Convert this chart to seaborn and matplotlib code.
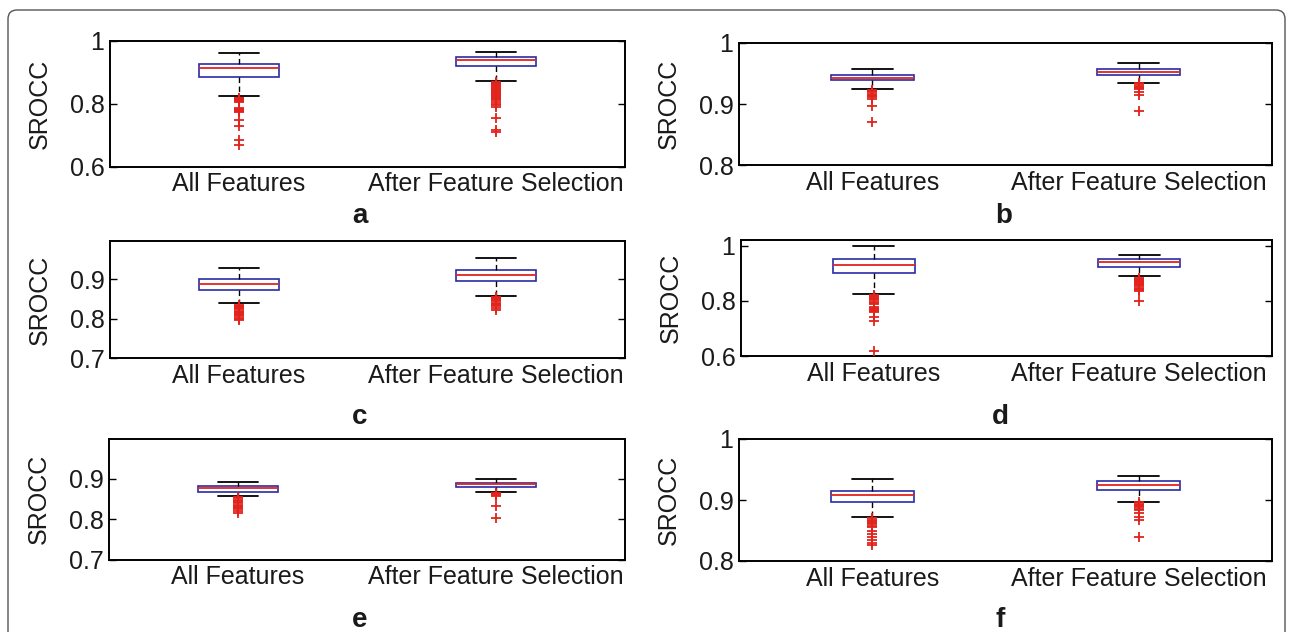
import numpy as np
import pandas as pd
import matplotlib
matplotlib.use("Agg")
import matplotlib.pyplot as plt
from matplotlib.patches import FancyBboxPatch
from matplotlib.transforms import IdentityTransform
import seaborn as sns

# ---------------- data ----------------
categories = ["All Features", "After Feature Selection"]
panel_letters = ["a", "b", "c", "d", "e", "f"]

# five-number summaries: [lower whisker, Q1, median, Q3, upper whisker]
a_all = [0.823, 0.883, 0.912, 0.927, 0.962]
a_sel = [0.873, 0.919, 0.938, 0.947, 0.965]
b_all = [0.924, 0.939, 0.943, 0.948, 0.957]
b_sel = [0.935, 0.948, 0.953, 0.957, 0.967]
c_all = [0.839, 0.874, 0.889, 0.900, 0.929]
c_sel = [0.859, 0.896, 0.912, 0.923, 0.954]
d_all = [0.824, 0.900, 0.929, 0.953, 0.998]
d_sel = [0.888, 0.924, 0.941, 0.951, 0.967]
e_all = [0.856, 0.868, 0.876, 0.882, 0.892]
e_sel = [0.867, 0.880, 0.886, 0.890, 0.898]
f_all = [0.872, 0.897, 0.908, 0.915, 0.934]
f_sel = [0.897, 0.917, 0.924, 0.931, 0.940]

# outliers
a_all_out = [0.819, 0.817, 0.815, 0.813, 0.811, 0.809, 0.807, 0.805, 0.786, 0.783, 0.780,
             0.778, 0.776, 0.774, 0.748, 0.729, 0.685, 0.667]
a_sel_out = [0.870, 0.867, 0.864, 0.861, 0.858, 0.855, 0.852, 0.849, 0.846, 0.843, 0.840,
             0.837, 0.834, 0.831, 0.828, 0.825, 0.822, 0.818, 0.814, 0.810, 0.805, 0.800,
             0.795, 0.790, 0.753, 0.716, 0.711]
b_all_out = [0.923, 0.921, 0.919, 0.917, 0.915, 0.913, 0.911, 0.908, 0.897, 0.871]
b_sel_out = [0.934, 0.932, 0.930, 0.928, 0.926, 0.924, 0.919, 0.915, 0.889]
c_all_out = [0.836, 0.833, 0.830, 0.827, 0.824, 0.821, 0.818, 0.815, 0.812, 0.809, 0.806,
             0.803, 0.800, 0.796]
c_sel_out = [0.856, 0.853, 0.850, 0.847, 0.844, 0.841, 0.838, 0.835, 0.832, 0.828, 0.822]
d_all_out = [0.821, 0.817, 0.813, 0.809, 0.805, 0.801, 0.797, 0.793, 0.789, 0.778, 0.774,
             0.770, 0.766, 0.762, 0.758, 0.740, 0.725, 0.619]
d_sel_out = [0.884, 0.880, 0.876, 0.872, 0.868, 0.864, 0.860, 0.856, 0.852, 0.848, 0.844,
             0.840, 0.835, 0.800]
e_all_out = [0.854, 0.851, 0.848, 0.845, 0.842, 0.839, 0.836, 0.833, 0.830, 0.827, 0.824,
             0.820, 0.815]
e_sel_out = [0.865, 0.862, 0.859, 0.856, 0.833, 0.802]
f_all_out = [0.870, 0.868, 0.866, 0.864, 0.862, 0.860, 0.858, 0.856, 0.850, 0.845, 0.840,
             0.835, 0.830, 0.826]
f_sel_out = [0.896, 0.894, 0.892, 0.890, 0.888, 0.885, 0.883, 0.878, 0.872, 0.867, 0.840]

# y axis limits / ticks / tick labels per panel
a_ylim, a_ticks, a_labels = (0.6, 1.0), [0.6, 0.8, 1.0], ["0.6", "0.8", "1"]
b_ylim, b_ticks, b_labels = (0.8, 1.0), [0.8, 0.9, 1.0], ["0.8", "0.9", "1"]
c_ylim, c_ticks, c_labels = (0.7, 0.998), [0.7, 0.8, 0.9], ["0.7", "0.8", "0.9"]
d_ylim, d_ticks, d_labels = (0.6, 1.02), [0.6, 0.8, 1.0], ["0.6", "0.8", "1"]
e_ylim, e_ticks, e_labels = (0.7, 0.998), [0.7, 0.8, 0.9], ["0.7", "0.8", "0.9"]
f_ylim, f_ticks, f_labels = (0.8, 1.0), [0.8, 0.9, 1.0], ["0.8", "0.9", "1"]

y_label = "SROCC"

panels = [
    (a_all, a_sel, a_all_out, a_sel_out, a_ylim, a_ticks, a_labels),
    (b_all, b_sel, b_all_out, b_sel_out, b_ylim, b_ticks, b_labels),
    (c_all, c_sel, c_all_out, c_sel_out, c_ylim, c_ticks, c_labels),
    (d_all, d_sel, d_all_out, d_sel_out, d_ylim, d_ticks, d_labels),
    (e_all, e_sel, e_all_out, e_sel_out, e_ylim, e_ticks, e_labels),
    (f_all, f_sel, f_all_out, f_sel_out, f_ylim, f_ticks, f_labels),
]

# ---------------- style ----------------
sns.set_style("white")
plt.rcParams["font.family"] = ["Liberation Sans", "DejaVu Sans"]
TXT = "#1a1a1a"
BLUE = "#2a2aa8"
RED = "#e2231c"
FS = 18

W, H = 1294, 632
fig = plt.figure(figsize=(W / 100, H / 100), dpi=100)

# axes rectangles in pixels: (left, top, right, bottom)
rects_px = [
    (110, 40.7, 625, 166.5),
    (739, 43.0, 1272, 165.0),
    (110, 240.7, 625, 358.3),
    (741, 240.0, 1272, 356.0),
    (109, 439.0, 625, 559.5),
    (739, 439.0, 1272, 561.0),
]
letter_pos = [(360, 223), (1004, 223), (360, 424), (1000, 424), (360, 627), (1000, 627)]


def box_values(stats):
    lo, q1, med, q3, hi = stats
    # arrangement whose quartiles equal the read summary values
    return [lo, q1, q1, med, q3, q3, hi]


for i, (s_all, s_sel, o_all, o_sel, ylim, ticks, labels) in enumerate(panels):
    l, t, r, b = rects_px[i]
    ax = fig.add_axes([l / W, 1 - b / H, (r - l) / W, (b - t) / H])

    box_df = pd.DataFrame({
        "group": [categories[0]] * 7 + [categories[1]] * 7,
        "value": box_values(s_all) + box_values(s_sel),
    })
    out_df = pd.DataFrame({
        "group": [categories[0]] * len(o_all) + [categories[1]] * len(o_sel),
        "value": o_all + o_sel,
    })

    sns.boxplot(
        data=box_df, x="group", y="value", order=categories, whis=(0, 100),
        showfliers=False, width=0.31, ax=ax,
        boxprops=dict(facecolor="none", edgecolor=BLUE, linewidth=1.2),
        medianprops=dict(color=RED, linewidth=1.3),
        whiskerprops=dict(color="black", linewidth=1.0, linestyle=(0, (4, 2.5))),
        capprops=dict(color="black", linewidth=1.3),
    )
    sns.stripplot(
        data=out_df, x="group", y="value", order=categories, jitter=False,
        marker="+", color=RED, size=7, linewidth=1.3, ax=ax, zorder=3,
    )

    ax.set_xlim(-0.5, 1.5)
    ax.set_ylim(*ylim)
    ax.set_yticks(ticks)
    ax.set_yticklabels(labels)
    ax.set_xlabel("")
    ax.set_ylabel(y_label, fontsize=FS, color=TXT)
    ax.yaxis.set_label_coords(-58 / (r - l), 0.5)
    ax.tick_params(axis="y", direction="in", length=5, width=1.0, left=True, right=True,
                   labelsize=FS, labelcolor=TXT, pad=4, color="black")
    ax.tick_params(axis="x", length=0, labelsize=FS, labelcolor=TXT, pad=4)
    for sp in ax.spines.values():
        sp.set_visible(True)
        sp.set_color("black")
        sp.set_linewidth(1.4)
    ax.grid(False)
    ax.set_facecolor("white")

    lx, ly = letter_pos[i]
    fig.text(lx / W, 1 - ly / H, panel_letters[i], ha="center", va="baseline",
             fontsize=20, fontweight="bold", color=TXT)

# outer rounded border
border = FancyBboxPatch((8, -20), 1277, 642, boxstyle="round,pad=0,rounding_size=9",
                        transform=IdentityTransform(), facecolor="none",
                        edgecolor="#555555", linewidth=1.0)
fig.patches.append(border)

fig.savefig("out.png", dpi=100, facecolor="white")
